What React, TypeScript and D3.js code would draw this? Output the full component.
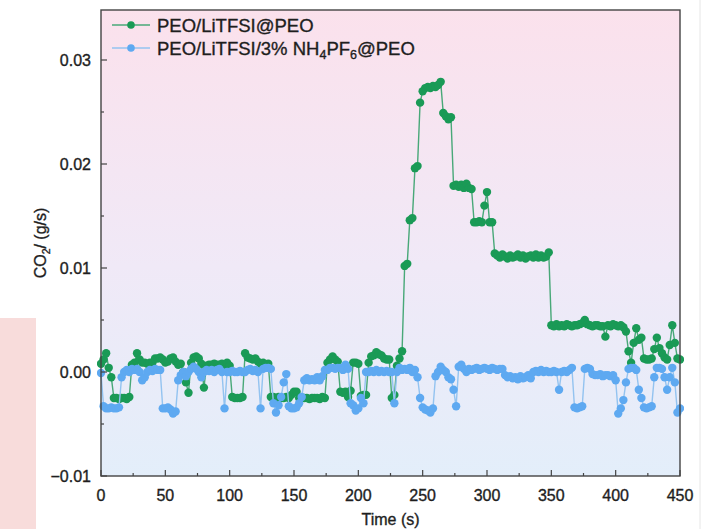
import React from "react";
import * as d3 from "d3";

// Sampling interval of the time axis (s)
const timeStep = 2;

// CO2 flow values in units of 1e-3 g/s, t = 0, 2, 4 ... 450 s
const greenValues = [
  0.8, 1.2, 1.8, 0.4, -0.5, -2.5, -2.5, -2.6, -2.5, -2.5,
  -2.6, -2.4, 0.7, 0.9, 1.8, 1.2, 0.9, 0.9, 0.8, 0.9,
  0.9, 1.3, 1.3, 1.4, 1.2, 0.9, 1.0, 1.3, 1.4, 1.0,
  0.7, 0.8, 0.0, -1.0, -2.0, 0.9, 1.4, 1.5, 1.3, 0.8,
  -1.5, 0.6, 0.7, 0.7, 0.8, 0.7, 0.7, 0.8, 0.7, 0.9,
  0.6, -2.4, -2.5, -2.5, -2.5, -2.4, 1.8, 1.4, 1.3, 1.2,
  1.3, 1.0, 0.8, 0.9, 0.7, 0.8, -2.4, -2.4, -2.5, -2.4,
  -2.5, -2.5, -2.4, -2.5, -2.2, -1.9, -1.9, -2.5, -2.5, -2.5,
  -2.5, -2.6, -2.5, -2.5, -2.5, -2.6, -2.4, -2.5, 0.9, 1.2,
  1.5, 1.2, 1.0, -1.9, -2.0, -1.9, -2.4, -1.8, 0.9, 0.9,
  0.8, -2.3, -2.2, -2.2, 0.9, 1.5, 1.6, 1.9, 1.7, 1.6,
  1.3, 1.2, 1.2, -2.5, -2.2, 0.6, 1.3, 2.0, 10.2, 10.4,
  14.6, 14.8, 19.6, 19.8, 25.9, 27.0, 27.3, 27.4, 27.3, 27.5,
  27.4, 27.6, 27.9, 24.9, 24.6, 24.3, 24.5, 17.9, 18.0, 17.8,
  18.0, 17.7, 18.1, 17.7, 17.6, 14.4, 14.4, 14.5, 14.4, 16.0,
  17.3, 14.4, 14.4, 11.4, 11.2, 11.0, 11.3, 11.1, 10.9, 11.2,
  11.0, 11.1, 11.3, 11.0, 11.2, 10.9, 11.1, 11.2, 11.0, 11.3,
  11.0, 11.2, 11.0, 11.1, 11.5, 4.5, 4.4, 4.6, 4.4, 4.5,
  4.4, 4.6, 4.5, 4.4, 4.5, 4.5, 4.6, 4.7, 5.0, 4.6,
  4.5, 4.4, 4.5, 4.5, 4.4, 4.4, 3.4, 4.5, 4.4, 4.6,
  4.5, 4.4, 4.5, 4.3, 3.9, 2.0, 0.9, 2.8, 4.2, 3.1,
  3.3, 1.3, 1.2, 1.2, 1.3, 2.2, 3.3, 2.3, 1.8, 1.4,
  1.2, 2.6, 4.5, 2.8, 1.3, 1.2,
];

const blueValues = [
  -0.1, -3.3, -3.5, -3.5, -3.4, -3.5, -3.5, -3.4, -0.5, 0.0,
  0.2, 0.0, 0.3, 0.2, 0.3, 0.0, -0.8, -0.5, 0.0, 0.2,
  0.1, 0.3, 0.2, 0.2, -3.5, -3.5, -3.4, -3.6, -4.0, -3.8,
  -0.8, -0.3, 0.0, -0.4, 0.0, 0.3, 0.5, 0.3, 0.0, -0.5,
  0.0, 0.2, 0.1, 0.2, 0.0, 0.2, 0.3, 0.0, -3.5, 0.0,
  0.0, 0.1, 0.0, 0.0, 0.1, 0.0, 0.0, 0.2, 0.3, 0.1,
  0.2, 0.0, -3.5, 0.3, 0.4, 0.4, 0.3, -3.0, -3.9, -3.2,
  -2.4, -1.0, -0.2, -3.3, -3.5, -3.5, -3.4, -3.0, -2.4, -0.8,
  -0.6, -0.8, -0.7, -0.8, -0.5, -0.8, -0.4, 0.2, 0.2, 0.4,
  0.4, 0.3, 0.4, 0.4, 0.2, 0.7, 0.3, -3.0, -3.2, -3.7,
  -3.5, -2.5, -3.0, 0.0, 0.0, 0.1, 0.0, 0.2, 0.0, 0.1,
  0.0, 0.1, 0.0, 0.0, -3.0, 0.0, 0.4, 0.2, 0.3, 0.2,
  0.4, 0.0, 0.2, -0.5, -2.5, -3.4, -3.6, -3.7, -3.9, -3.5,
  -0.4, 0.0, 0.5, 0.2, 0.0, -0.5, -0.7, -1.7, -3.3, 0.5,
  0.7, 0.3, 0.0, 0.3, 0.2, 0.3, 0.4, 0.2, 0.3, 0.4,
  0.3, 0.2, 0.4, 0.3, 0.2, 0.3, 0.3, -0.3, -0.5, -0.4,
  -0.6, -0.5, -0.7, -0.4, -0.6, -0.5, -0.3, -0.6, 0.0, 0.1,
  0.0, 0.2, 0.0, 0.1, 0.0, 0.0, 0.1, 0.0, -1.7, 0.0,
  0.1, 0.0, 0.2, 0.4, -3.4, -3.5, -3.4, -3.3, 0.3, 0.4,
  0.3, -0.2, -0.3, -0.3, -0.2, -0.4, -0.3, -0.3, -0.4, -0.3,
  -0.8, -4.0, -3.5, -2.7, -1.0, 0.3, 0.4, 0.4, 0.2, -1.7,
  -2.5, -3.4, -3.5, -3.4, -3.3, -0.5, 0.4, 0.4, 0.3, -0.5,
  -1.7, -0.5, 0.4, -1.0, -3.9, -3.5,
];

const xTicks = [0, 50, 100, 150, 200, 250, 300, 350, 400, 450];
const yTicks = [-0.01, 0.0, 0.01, 0.02, 0.03];
const xMinor = [25, 75, 125, 175, 225, 275, 325, 375, 425];
const yMinor = [-0.005, 0.005, 0.015, 0.025];

const W = 718;
const H = 529;
const left = 101;
const right = 680;
const top = 10;
const bottom = 476;

const font = "'Liberation Sans', Arial, Helvetica, sans-serif";
const ink = "#1e1e1e";

export default function App() {
  const x = d3.scaleLinear().domain([0, 450]).range([left, right]);
  const y = d3.scaleLinear().domain([-0.01, 0.03]).range([bottom, 60]);

  const toPts = (vals: number[]) =>
    vals.map((v, i) => ({ t: i * timeStep, v: v * 1e-3 }));
  const green = toPts(greenValues);
  const blue = toPts(blueValues);

  const line = d3
    .line<{ t: number; v: number }>()
    .x((d) => x(d.t))
    .y((d) => y(d.v));

  const series = [
    { data: green, line: "#48a878", fill: "#1a9a56" },
    { data: blue, line: "#93c3f0", fill: "#5ea9f1" },
  ];

  const textProps = { fill: ink, stroke: ink, strokeWidth: 0.35 };

  return (
    <svg
      width={W}
      height={H}
      style={{ position: "absolute", left: 0, top: 0, background: "#fff" }}
      fontFamily={font}
    >
      <defs>
        <linearGradient id="bg" x1="0" y1="0" x2="0" y2="1">
          <stop offset="0%" stopColor="#fbe1ec" />
          <stop offset="55%" stopColor="#f0e9f7" />
          <stop offset="100%" stopColor="#e3eefa" />
        </linearGradient>
        <clipPath id="clip">
          <rect x={left - 4} y={top} width={right - left + 8} height={bottom - top} />
        </clipPath>
      </defs>
      <rect x={0} y={318} width={36} height={H - 318} fill="#f8dcdb" />
      <line x1={700} y1={0} x2={700} y2={H} stroke="#e6e6e6" strokeWidth={1} />
      <rect x={left} y={top} width={right - left} height={bottom - top} fill="url(#bg)" />

      <g clipPath="url(#clip)">
        {series.map((s, k) => (
          <g key={k}>
            <path d={line(s.data) || ""} fill="none" stroke={s.line} strokeWidth={1.4} />
            {s.data.map((d, i) => (
              <circle key={i} cx={x(d.t)} cy={y(d.v)} r={4.2} fill={s.fill} />
            ))}
          </g>
        ))}
      </g>

      <rect
        x={left}
        y={top}
        width={right - left}
        height={bottom - top}
        fill="none"
        stroke="#444"
        strokeWidth={1.4}
      />

      {/* y ticks */}
      {yTicks.map((t) => (
        <g key={t}>
          <line x1={left} x2={left + 6} y1={y(t)} y2={y(t)} stroke="#444" strokeWidth={1.2} />
          <text x={91} y={y(t)} dy="0.35em" textAnchor="end" fontSize={16} {...textProps}>
            {d3.format(".2f")(t)}
          </text>
        </g>
      ))}
      {yMinor.map((t) => (
        <line key={t} x1={left} x2={left + 3} y1={y(t)} y2={y(t)} stroke="#444" strokeWidth={1.2} />
      ))}

      {/* x ticks */}
      {xTicks.map((t) => (
        <g key={t}>
          <line x1={x(t)} x2={x(t)} y1={bottom} y2={bottom - 6} stroke="#444" strokeWidth={1.2} />
          <text x={x(t)} y={495} dy="0.35em" textAnchor="middle" fontSize={16} {...textProps}>
            {t}
          </text>
        </g>
      ))}
      {xMinor.map((t) => (
        <line key={t} x1={x(t)} x2={x(t)} y1={bottom} y2={bottom - 3} stroke="#444" strokeWidth={1.2} />
      ))}

      <text x={(left + right) / 2} y={519} dy="0.35em" textAnchor="middle" fontSize={16} {...textProps}>
        Time (s)
      </text>

      <text
        transform={`translate(40, ${(top + bottom) / 2}) rotate(-90)`}
        textAnchor="middle"
        dy="0.35em"
        fontSize={16}
        {...textProps}
      >
        CO<tspan fontSize={10.5} dy="4">2</tspan>
        <tspan dy="-4">/ (g/s)</tspan>
      </text>

      {/* legend */}
      {[
        { label: "g", yy: 25, s: series[0] },
        { label: "b", yy: 48, s: series[1] },
      ].map((r) => (
        <g key={r.label}>
          <line x1={112} x2={150} y1={r.yy} y2={r.yy} stroke={r.s.line} strokeWidth={1.6} />
          <circle cx={131} cy={r.yy} r={3.8} fill={r.s.fill} />
        </g>
      ))}
      <text x={157} y={25} dy="0.36em" fontSize={18.5} {...textProps}>
        PEO/LiTFSI@PEO
      </text>
      <text x={157} y={48} dy="0.36em" fontSize={18.5} {...textProps}>
        PEO/LiTFSI/3% NH<tspan fontSize={12.5} dy="4">4</tspan>
        <tspan dy="-4">PF</tspan>
        <tspan fontSize={12.5} dy="4">6</tspan>
        <tspan dy="-4">@PEO</tspan>
      </text>
    </svg>
  );
}
